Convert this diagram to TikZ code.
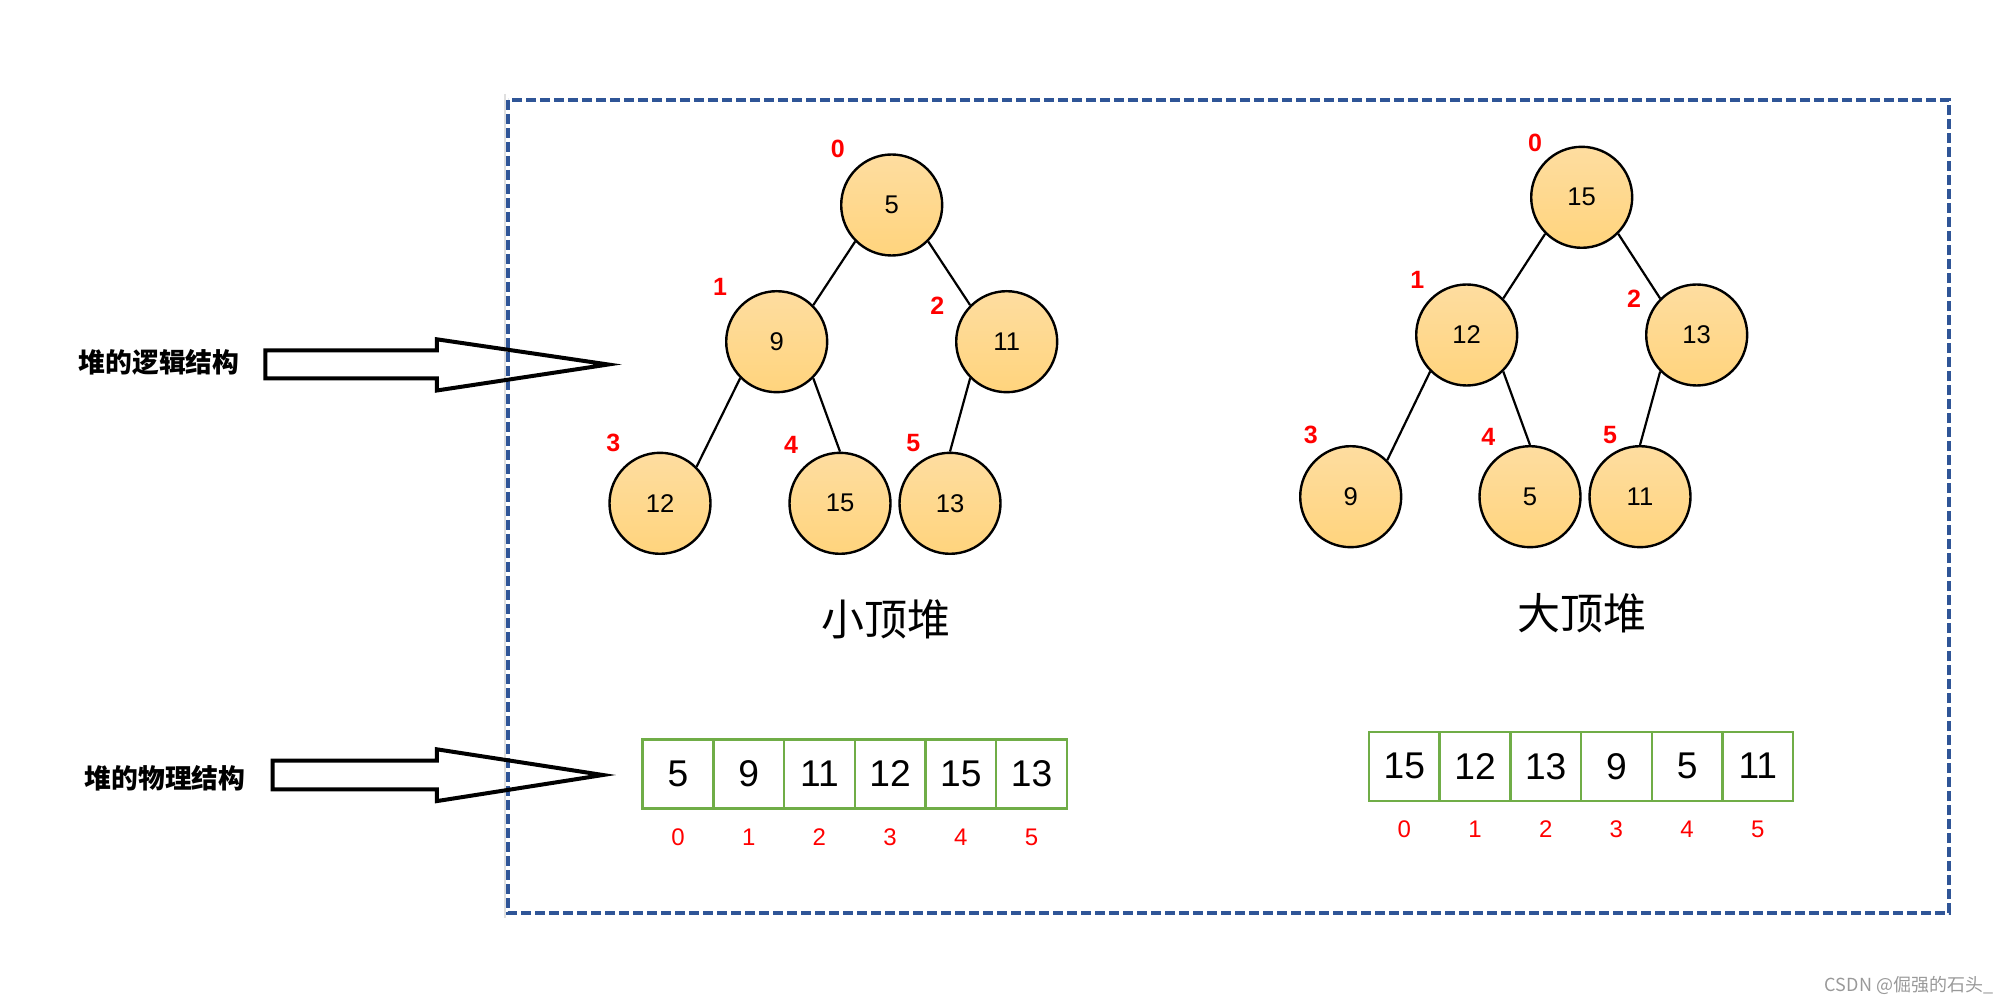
\documentclass[tikz,border=0pt]{standalone}
\usepackage{fontspec}
\setmainfont{Liberation Sans}
\newfontfamily\cjk{Noto Sans CJK SC}
\definecolor{heaptop}{RGB}{254,221,160}
\definecolor{heapbottom}{RGB}{255,212,125}
\definecolor{boxblue}{RGB}{47,85,151}
\definecolor{cellgreen}{RGB}{112,173,71}
\usetikzlibrary{positioning}

\begin{document}
\begin{tikzpicture}[
  x=0.5pt, y=-0.5pt,
  heapnode/.style={circle, draw=black, line width=1.2pt, minimum size=50.5pt, inner sep=0pt, top color=heaptop, bottom color=heapbottom, font=\fontsize{12.8}{14}\selectfont},
  idx/.style={text=red, inner sep=0pt, font=\fontsize{12.5}{14}\selectfont\bfseries},
  link/.style={line width=1.1pt},
  cell/.style={draw=cellgreen, line width=1.2pt, minimum width=35.35pt, minimum height=34.5pt, inner sep=0pt, outer sep=0pt, font=\fontsize{18.6}{20}\selectfont},
  arridx/.style={text=red, inner sep=0pt, font=\fontsize{12}{13}\selectfont},
  heaptitle/.style={font=\cjk\fontsize{21.5}{24}\selectfont},
  sidelabel/.style={font=\cjk\bfseries\fontsize{13.4}{15}\selectfont},
  hollow/.style={draw=black, line width=2pt, line join=miter},
  heapframe/.style={draw=boxblue, line width=1.6pt, dash pattern=on 5pt off 2pt}
]
  \useasboundingbox (0,0) rectangle (2014,1005);

  % Frame
  \draw[gray!25, line width=1.2pt] (505,94) -- (505,918);
  \draw[heapframe] (508,100) rectangle (1949,913);

  % Side labels and arrows
  \node[sidelabel] (logic) at (159,362) {堆的逻辑结构};
  \node[sidelabel] (phys) at (165,778) {堆的物理结构};
  \draw[hollow] (265.4,350.5) -- (436.8,350.5) -- (436.8,339.3) -- (608.2,364.5)
    -- (436.8,390.5) -- (436.8,378.5) -- (265.4,378.5) -- cycle;
  \draw[hollow] (272.5,760.7) -- (436.8,760.7) -- (436.8,749.3) -- (602.9,775)
    -- (436.8,801.1) -- (436.8,789.3) -- (272.5,789.3) -- cycle;

  % Small heap
  \node[heapnode] (s0) at (891.7,205) {5};
  \node[heapnode] (s1) at (776.7,341.7) {9};
  \node[heapnode] (s2) at (1006.7,341.7) {11};
  \node[heapnode] (s3) at (660,503.3) {12};
  \node[heapnode] (s4) at (840,503.3) {15};
  \node[heapnode] (s5) at (950,503.3) {13};

  \node[idx] (si0) at (837.7,149.3) {0};
  \node[idx] (si1) at (720,286.7) {1};
  \node[idx] (si2) at (937.3,306) {2};
  \node[idx] (si3) at (613.3,443.3) {3};
  \node[idx] (si4) at (791,445) {4};
  \node[idx] (si5) at (913.3,443.3) {5};

  \draw[link] (s0.south west) -- (s1.north east);
  \draw[link] (s0.south east) -- (s2.north west);
  \draw[link] (s1.south west) -- (s3.north east);
  \draw[link] (s1.south east) -- (s4.north);
  \draw[link] (s2.south west) -- (s5.north);

  \node[heaptitle] (stitle) at (886,619) {小顶堆};

  % Big heap
  \node[heapnode] (b0) at (1581.7,197.3) {15};
  \node[heapnode] (b1) at (1466.7,335) {12};
  \node[heapnode] (b2) at (1696.7,335) {13};
  \node[heapnode] (b3) at (1350.7,496.7) {9};
  \node[heapnode] (b4) at (1530,496.7) {5};
  \node[heapnode] (b5) at (1640,496.7) {11};

  \node[idx] (bi0) at (1535,143.3) {0};
  \node[idx] (bi1) at (1417.3,280) {1};
  \node[idx] (bi2) at (1634,298.3) {2};
  \node[idx] (bi3) at (1310.7,435) {3};
  \node[idx] (bi4) at (1488.3,436.7) {4};
  \node[idx] (bi5) at (1610,435) {5};

  \draw[link] (b0.south west) -- (b1.north east);
  \draw[link] (b0.south east) -- (b2.north west);
  \draw[link] (b1.south west) -- (b3.north east);
  \draw[link] (b1.south east) -- (b4.north);
  \draw[link] (b2.south west) -- (b5.north);

  \node[heaptitle] (btitle) at (1582,613) {大顶堆};

  % Arrays
  \node[cell] (sa0) at (678,773.8) {5};
  \node[cell, right=0pt of sa0] (sa1) {9};
  \node[cell, right=0pt of sa1] (sa2) {11};
  \node[cell, right=0pt of sa2] (sa3) {12};
  \node[cell, right=0pt of sa3] (sa4) {15};
  \node[cell, right=0pt of sa4] (sa5) {13};

  \node[cell] (ba0) at (1404.3,766.2) {15};
  \node[cell, right=0pt of ba0] (ba1) {12};
  \node[cell, right=0pt of ba1] (ba2) {13};
  \node[cell, right=0pt of ba2] (ba3) {9};
  \node[cell, right=0pt of ba3] (ba4) {5};
  \node[cell, right=0pt of ba4] (ba5) {11};

  \foreach \i in {0,...,5} {
    \node[arridx, below=10pt of sa\i] (sai\i) {\i};
    \node[arridx, below=10pt of ba\i] (bai\i) {\i};
  }

  % Watermark
  \node[text=gray!80, font=\cjk\fontsize{9}{10}\selectfont] (mark) at (1909,985) {CSDN @倔强的石头\_};
\end{tikzpicture}
\end{document}
